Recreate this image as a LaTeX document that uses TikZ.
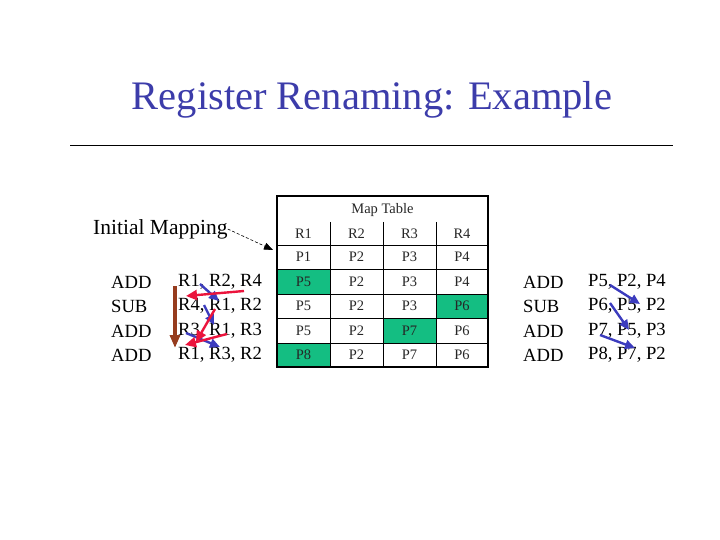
\documentclass[tikz,border=0pt]{standalone}
\usepackage{fontspec}
\setmainfont{Liberation Serif}
\usetikzlibrary{arrows.meta}
\definecolor{titleblue}{RGB}{60,60,170}
\definecolor{arrblue}{RGB}{60,60,190}
\definecolor{arrred}{RGB}{235,20,60}
\definecolor{arrbrown}{RGB}{150,60,30}
\definecolor{cellgreen}{RGB}{20,190,130}
\tikzset{
  instr/.style={anchor=west,inner sep=0pt,font=\fontsize{18.6}{20}\selectfont},
  cell/.style={inner sep=0pt,font=\fontsize{14.5}{16}\selectfont,text=black!85},
  redarr/.style={draw=arrred,line width=2.4pt,-{Triangle[length=11pt,width=10pt]}},
  bluearr/.style={draw=arrblue,line width=2.4pt,-{Triangle[length=10pt,width=9pt]}},
  brownarr/.style={draw=arrbrown,line width=4pt,-{Triangle[length=13pt,width=10pt]}},
  grid/.style={draw=black,line width=0.8pt}
}
\begin{document}
\begin{tikzpicture}[x=1pt,y=-1pt]
\useasboundingbox (0,0) rectangle (720,540);
% title
\node[text=titleblue,inner sep=0pt,font=\fontsize{40.5}{44}\selectfont] (title) at (372,100) {Register Renaming: Example};
\draw[line width=1pt] (70,146) -- (673,146);
% table fills
\fill[cellgreen] (277,269) rectangle (330,294);
\fill[cellgreen] (436,294) rectangle (488,318);
\fill[cellgreen] (383,318) rectangle (436,343);
\fill[cellgreen] (277,343) rectangle (330,367);
% table grid
\foreach \yy in {245,269,294,318,343} \draw[grid] (277,\yy) -- (488,\yy);
\foreach \xx in {330,383,436} \draw[grid] (\xx,222) -- (\xx,367);
\draw[line width=2.8pt] (277,196) rectangle (488,367);
\node[cell] (maptab) at (382.5,210) {Map Table};
% table contents
\foreach \r/\y/\a/\b/\c/\d in {0/233.5/R1/R2/R3/R4, 1/257/P1/P2/P3/P4, 2/281.5/P5/P2/P3/P4, 3/306/P5/P2/P3/P6, 4/330.5/P5/P2/P7/P6, 5/355/P8/P2/P7/P6}{
  \node[cell] (t\r a) at (303.5,\y) {\a};
  \node[cell] (t\r b) at (356.5,\y) {\b};
  \node[cell] (t\r c) at (409.5,\y) {\c};
  \node[cell] (t\r d) at (462,\y) {\d};
}
% initial mapping
\node[anchor=west,inner sep=0pt,font=\fontsize{21.5}{24}\selectfont] (init) at (93,229) {Initial Mapping};
\coordinate (initend) at (273,250);
\draw[densely dashed,line width=0.6pt,-{Triangle[length=9pt,width=7pt]}] (init.east) -- (initend);
% left instructions
\foreach \i/\y/\op/\args in {1/282/ADD/{R1, R2, R4}, 2/306/SUB/{R4, R1, R2}, 3/331/ADD/{R3, R1, R3}, 4/355/ADD/{R1, R3, R2}}{
  \node[instr] (lo\i) at (111,\y) {\op};
  \node[instr] (la\i) at (178,\y) {\args};
}
% right instructions
\foreach \i/\y/\op/\args in {1/282/ADD/{P5, P2, P4}, 2/306/SUB/{P6, P5, P2}, 3/331/ADD/{P7, P5, P3}, 4/355/ADD/{P8, P7, P2}}{
  \node[instr] (ro\i) at (523,\y) {\op};
  \node[instr] (ra\i) at (588,\y) {\args};
}
% left arrows
\coordinate (b0) at (175,286); \coordinate (b1) at (175,348);
\draw[brownarr] (b0) -- (b1);
\coordinate (r1s) at (244,291); \coordinate (r1e) at (186,296);
\coordinate (r2s) at (215,309); \coordinate (r2e) at (196,342);
\coordinate (r3s) at (227,334); \coordinate (r3e) at (185,345);
\coordinate (u1s) at (200,284); \coordinate (u1e) at (219,301);
\coordinate (u2s) at (204,305); \coordinate (u2e) at (214,325);
\coordinate (u3s) at (186,333); \coordinate (u3e) at (220,347);
\draw[bluearr] (u1s) -- (u1e);
\draw[bluearr] (u2s) -- (u2e);
\draw[bluearr] (u3s) -- (u3e);
\draw[redarr] (r1s) -- (r1e);
\draw[redarr] (r2s) -- (r2e);
\draw[redarr] (r3s) -- (r3e);
% right arrows
\coordinate (v1s) at (610,285); \coordinate (v1e) at (640,304);
\coordinate (v2s) at (610,303); \coordinate (v2e) at (629,330);
\coordinate (v3s) at (600,335); \coordinate (v3e) at (635,348);
\draw[bluearr] (v1s) -- (v1e);
\draw[bluearr] (v2s) -- (v2e);
\draw[bluearr] (v3s) -- (v3e);
\end{tikzpicture}
\end{document}
